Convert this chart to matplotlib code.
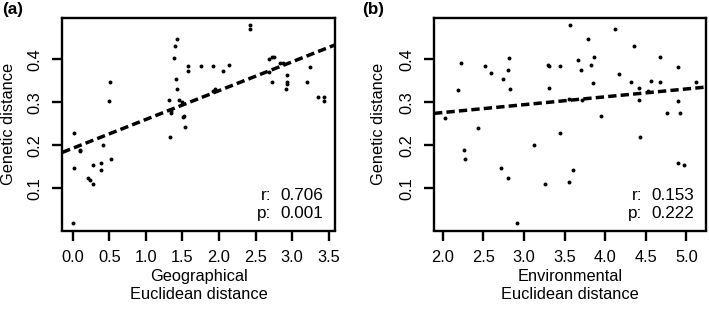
import matplotlib
matplotlib.use("Agg")
import matplotlib.pyplot as plt
import numpy as np

plt.rcParams['font.family'] = ['Liberation Sans', 'DejaVu Sans']

# ---- Panel (a): geographical distance ----
geo_x = [0.00, 0.02, 0.02, 0.10, 0.10, 0.21, 0.23, 0.28, 0.28, 0.39, 0.39, 0.42,
         0.49, 0.51, 0.53, 1.32, 1.33, 1.34, 1.35, 1.39, 1.40, 1.43, 1.41, 1.43,
         1.45, 1.50, 1.51, 1.52, 1.54, 1.57, 1.58, 1.76, 1.92, 1.92, 1.95, 2.05,
         2.13, 2.42, 2.42, 2.68, 2.72, 2.75, 2.68, 2.72, 2.84, 2.87, 2.93, 2.93,
         2.93, 2.92, 3.20, 3.24, 3.35, 3.43, 3.43]
geo_y = [0.020, 0.228, 0.147, 0.190, 0.186, 0.124, 0.119, 0.111, 0.154, 0.158, 0.143, 0.200,
         0.303, 0.348, 0.167, 0.305, 0.220, 0.280, 0.276, 0.402, 0.430, 0.447, 0.353, 0.330,
         0.305, 0.300, 0.265, 0.268, 0.242, 0.385, 0.373, 0.385, 0.385, 0.325, 0.330, 0.373,
         0.387, 0.480, 0.470, 0.400, 0.404, 0.404, 0.370, 0.346, 0.390, 0.390, 0.364, 0.348,
         0.343, 0.330, 0.346, 0.381, 0.312, 0.313, 0.303]
geo_fit = (0.193, 0.067)      # intercept, slope
geo_stats = ("0.706", "0.001")

# ---- Panel (b): environmental distance ----
env_x = [2.03, 2.19, 2.23, 2.27, 2.28, 2.44, 2.52, 2.59, 2.72, 2.74, 2.80, 2.80,
         2.82, 2.83, 2.91, 3.12, 3.26, 3.30, 3.31, 3.31, 3.45, 3.45, 3.55, 3.55,
         3.57, 3.60, 3.66, 3.70, 3.71, 3.79, 3.83, 3.86, 3.85, 3.95, 4.12, 4.17,
         4.32, 4.35, 4.42, 4.42, 4.43, 4.53, 4.56, 4.67, 4.67, 4.76, 4.89, 4.90,
         4.92, 4.90, 4.97, 5.12]
env_y = [0.264, 0.329, 0.391, 0.188, 0.167, 0.241, 0.384, 0.369, 0.147, 0.354, 0.123, 0.374,
         0.402, 0.330, 0.020, 0.200, 0.110, 0.387, 0.385, 0.333, 0.385, 0.228, 0.115, 0.307,
         0.480, 0.143, 0.397, 0.374, 0.305, 0.447, 0.387, 0.404, 0.344, 0.268, 0.471, 0.365,
         0.346, 0.430, 0.333, 0.305, 0.220, 0.325, 0.350, 0.404, 0.348, 0.276, 0.381, 0.303,
         0.276, 0.158, 0.154, 0.346]
env_fit = (0.2394, 0.0183)
env_stats = ("0.153", "0.222")

panels = [
    dict(x=geo_x, y=geo_y, fit=geo_fit, stats=geo_stats, xlim=(-0.142, 3.585),
         xticks=[0.0, 0.5, 1.0, 1.5, 2.0, 2.5, 3.0, 3.5],
         xlabel="Geographical\nEuclidean distance", tag="(a)",
         rect=[62.3, 18.3, 335.0, 230.5], ylab_x=8.5, tag_x=2),
    dict(x=env_x, y=env_y, fit=env_fit, stats=env_stats, xlim=(1.895, 5.24),
         xticks=[2.0, 2.5, 3.0, 3.5, 4.0, 4.5, 5.0],
         xlabel="Environmental\nEuclidean distance", tag="(b)",
         rect=[434.0, 18.3, 706.0, 230.5], ylab_x=379, tag_x=362),
]

W, H = 709, 309
fig = plt.figure(figsize=(W / 100, H / 100), dpi=100)
FS = 11.8

for p in panels:
    l, t, r, b = p["rect"]
    ax = fig.add_axes([l / W, 1 - b / H, (r - l) / W, (b - t) / H])
    ax.scatter(p["x"], p["y"], s=8, color="black", linewidths=0, zorder=3)
    ax.set_xlim(*p["xlim"])
    ax.set_ylim(0.002, 0.495)
    xs = np.array(p["xlim"])
    a0, a1 = p["fit"]
    ax.plot(xs, a0 + a1 * xs, color="black", lw=2.5,
            linestyle=(0, (2.4, 1.2)), zorder=2)
    ax.set_xticks(p["xticks"])
    ax.set_xticklabels([f"{v:.1f}" for v in p["xticks"]])
    yt = [0.1, 0.2, 0.3, 0.4]
    ax.set_yticks(yt)
    ax.set_yticklabels([f"{v:.1f}" for v in yt], rotation=90, va="center")
    ax.tick_params(direction="out", length=7.5, width=1.7, labelsize=FS, pad=6.5)
    for s in ax.spines.values():
        s.set_linewidth(1.7)
    ax.set_xlabel(p["xlabel"], fontsize=FS, labelpad=3, linespacing=1.2)
    # stats text
    ax.text(1 - 64 / (r - l), 0.167, "r:", transform=ax.transAxes,
            ha="right", va="center", fontsize=12.3)
    ax.text(1 - 11.5 / (r - l), 0.167, p["stats"][0], transform=ax.transAxes,
            ha="right", va="center", fontsize=12.3)
    ax.text(1 - 64 / (r - l), 0.078, "p:", transform=ax.transAxes,
            ha="right", va="center", fontsize=12.3)
    ax.text(1 - 11.5 / (r - l), 0.078, p["stats"][1], transform=ax.transAxes,
            ha="right", va="center", fontsize=12.3)
    fig.text(p["ylab_x"] / W, 1 - 124.4 / H, "Genetic distance", rotation=90,
             ha="center", va="center", fontsize=FS)
    fig.text(p["tag_x"] / W, 1 - 2 / H, p["tag"], ha="left", va="top",
             fontsize=12.3, fontweight="bold")

fig.savefig("out.png", dpi=100)
